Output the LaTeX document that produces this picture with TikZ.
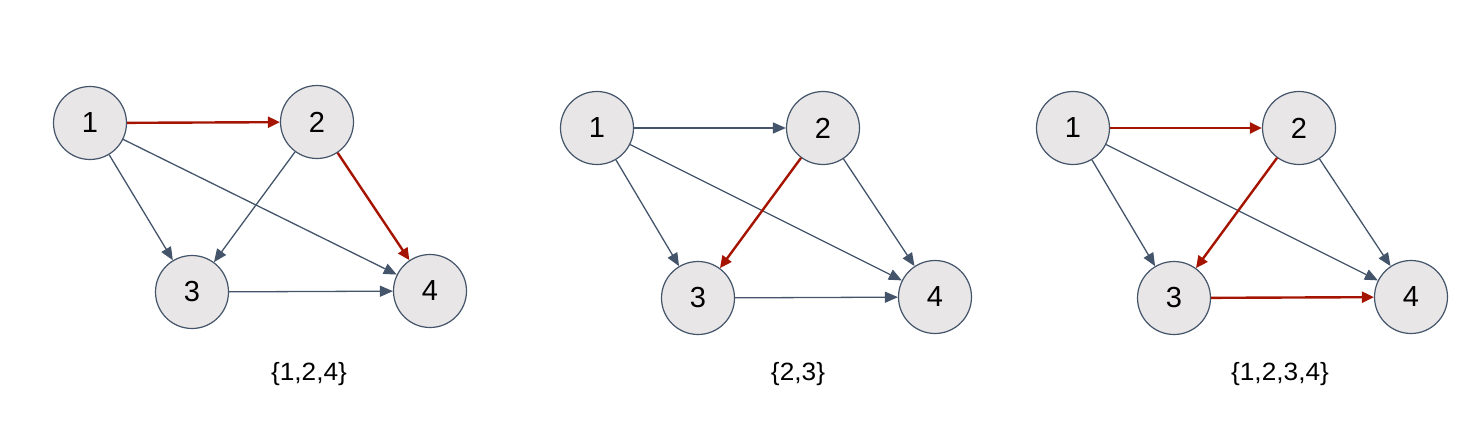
\documentclass[tikz,border=0pt]{standalone}
\usepackage{fontspec}
\setmainfont{Liberation Sans}
\usetikzlibrary{arrows.meta}
\definecolor{nodefill}{HTML}{E8E6E6}
\definecolor{edgegray}{HTML}{44546A}
\definecolor{edgered}{HTML}{A51400}
\tikzset{
  vert/.style={circle, draw=edgegray, line width=1.2pt, fill=nodefill, minimum size=73pt, inner sep=0pt, font=\fontsize{29}{33}\selectfont},
  gedge/.style={draw=edgegray, line width=1.3pt, -{Triangle[length=13pt,width=11pt]}},
  redge/.style={draw=edgered, line width=2.4pt, -{Triangle[length=12pt,width=11pt]}},
  setlabel/.style={font=\fontsize{25}{29}\selectfont, xscale=1.05}
}
\begin{document}
\begin{tikzpicture}[x=1pt,y=-1pt]
\useasboundingbox (0,0) rectangle (1478,423);
% graph 1
\node[vert] (a1) at (90,123) {1};
\node[vert] (a2) at (317,122) {2};
\node[vert] (a3) at (192,292) {3};
\node[vert] (a4) at (430,291) {4};
\draw[redge] (a1) -- (a2);
\draw[gedge] (a1) -- (a3);
\draw[gedge] (a1) -- (a4);
\draw[gedge] (a2) -- (a3);
\draw[redge] (a2) -- (a4);
\draw[gedge] (a3) -- (a4);
\node[setlabel] (la) at (309,374) {\{1,2,4\}};
% graph 2
\node[vert] (b1) at (597,128) {1};
\node[vert] (b2) at (823,128) {2};
\node[vert] (b3) at (698,298) {3};
\node[vert] (b4) at (935,297) {4};
\draw[gedge] (b1) -- (b2);
\draw[gedge] (b1) -- (b3);
\draw[gedge] (b1) -- (b4);
\draw[redge] (b2) -- (b3);
\draw[gedge] (b2) -- (b4);
\draw[gedge] (b3) -- (b4);
\node[setlabel] (lb) at (798,374) {\{2,3\}};
% graph 3
\node[vert] (c1) at (1073,128) {1};
\node[vert] (c2) at (1299,128) {2};
\node[vert] (c3) at (1174,298) {3};
\node[vert] (c4) at (1411,297) {4};
\draw[redge] (c1) -- (c2);
\draw[gedge] (c1) -- (c3);
\draw[gedge] (c1) -- (c4);
\draw[redge] (c2) -- (c3);
\draw[gedge] (c2) -- (c4);
\draw[redge] (c3) -- (c4);
\node[setlabel] (lc) at (1280,374) {\{1,2,3,4\}};
\end{tikzpicture}
\end{document}
